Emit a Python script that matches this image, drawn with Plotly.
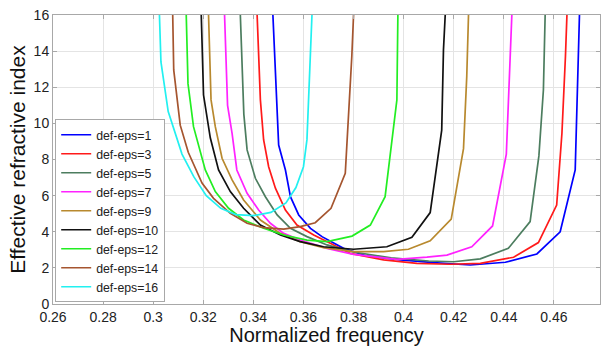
import plotly.graph_objects as go

# ---- data ----
labels = ["def-eps=1", "def-eps=3", "def-eps=5", "def-eps=7", "def-eps=9",
          "def-eps=10", "def-eps=12", "def-eps=14", "def-eps=16"]

x_eps1 = [0.3478, 0.3494, 0.3501, 0.3528, 0.3548, 0.3581, 0.3628, 0.3674, 0.3760, 0.3853,
          0.3987, 0.4120, 0.4266, 0.4406, 0.4532, 0.4625, 0.4685, 0.4702]
y_eps1 = [16, 11.0, 8.8, 7.42, 5.94, 4.93, 4.19, 3.73, 3.08, 2.66,
          2.44, 2.29, 2.16, 2.31, 2.77, 4.0, 7.42, 16]

x_eps3 = [0.3415, 0.3428, 0.3441, 0.3461, 0.3488, 0.3528, 0.3574, 0.3641, 0.3707, 0.3787,
          0.3920, 0.4053, 0.4186, 0.4306, 0.4439, 0.4538, 0.4611, 0.4632, 0.4646, 0.4652]
y_eps3 = [16, 11.3, 9.08, 7.6, 6.41, 5.2, 4.37, 3.82, 3.36, 2.8,
          2.44, 2.25, 2.2, 2.25, 2.59, 3.4, 5.48, 9.45, 13.7, 16]

x_eps5 = [0.3348, 0.3362, 0.3375, 0.3408, 0.3448, 0.3495, 0.3548, 0.3614, 0.3694, 0.3800,
          0.3950, 0.4100, 0.4200, 0.4306, 0.4418, 0.4505, 0.4540, 0.4558, 0.4565]
y_eps5 = [16, 10.5, 8.53, 6.96, 5.94, 4.93, 4.19, 3.73, 3.27, 2.88,
          2.55, 2.38, 2.34, 2.5, 3.08, 4.56, 8.2, 11.85, 16]

x_eps7 = [0.3285, 0.3297, 0.3315, 0.3334, 0.3375, 0.3421, 0.3468, 0.3521, 0.3587, 0.3694,
          0.3800, 0.3973, 0.4093, 0.4173, 0.4272, 0.4355, 0.4410, 0.4425, 0.4432]
y_eps7 = [16, 11.0, 9.45, 7.42, 6.13, 5.2, 4.47, 3.91, 3.54, 3.08,
          2.75, 2.47, 2.59, 2.71, 3.17, 4.32, 8.3, 13.7, 16]

x_eps9 = [0.3221, 0.3231, 0.3248, 0.3275, 0.3315, 0.3361, 0.3428, 0.3508, 0.3587, 0.3680,
          0.3800, 0.3920, 0.4019, 0.4106, 0.4190, 0.4239, 0.4252, 0.4259]
y_eps9 = [16, 11.3, 9.82, 8.07, 6.87, 5.76, 4.65, 3.91, 3.45, 3.12,
          2.9, 2.9, 3.03, 3.5, 4.7, 8.6, 12.6, 16]

x_eps10 = [0.3192, 0.3201, 0.3228, 0.3261, 0.3308, 0.3361, 0.3428, 0.3508, 0.3587, 0.3680,
           0.3800, 0.3933, 0.4033, 0.4106, 0.4152, 0.4159, 0.4166]
y_eps10 = [16, 11.57, 9.2, 7.42, 6.22, 5.3, 4.37, 3.82, 3.45, 3.17,
           3.03, 3.17, 3.69, 5.06, 9.63, 14.06, 16]

x_eps12 = [0.3132, 0.3139, 0.3161, 0.3208, 0.3248, 0.3301, 0.3361, 0.3441, 0.3521, 0.3614,
           0.3694, 0.3794, 0.3867, 0.3926, 0.3973, 0.3977]
y_eps12 = [16, 12.2, 9.82, 7.42, 6.22, 5.3, 4.65, 4.19, 3.82, 3.54,
           3.45, 3.76, 4.37, 5.94, 11.3, 16]

x_eps14 = [0.3078, 0.3082, 0.3108, 0.3140, 0.3195, 0.3241, 0.3308, 0.3375, 0.3441, 0.3521,
           0.3587, 0.3647, 0.3710, 0.3767, 0.3793, 0.3800]
y_eps14 = [16, 12.96, 9.9, 8.4, 6.7, 5.85, 5.02, 4.47, 4.23, 4.15,
           4.28, 4.5, 5.3, 7.24, 13.7, 16]

x_eps16 = [0.3025, 0.3031, 0.3060, 0.3115, 0.3162, 0.3212, 0.3270, 0.3330, 0.3400, 0.3470,
           0.3530, 0.3570, 0.3600, 0.3614, 0.3634]
y_eps16 = [16, 13.4, 10.65, 8.3, 7.05, 6.0, 5.3, 4.95, 4.89, 5.07,
           5.6, 6.45, 7.6, 9.1, 16]

x_ticks = [0.26, 0.28, 0.30, 0.32, 0.34, 0.36, 0.38, 0.40, 0.42, 0.44, 0.46]
x_tick_labels = ["0.26", "0.28", "0.3", "0.32", "0.34", "0.36", "0.38", "0.4", "0.42", "0.44", "0.46"]
y_ticks = [0, 2, 4, 6, 8, 10, 12, 14, 16]
y_tick_labels = ["0", "2", "4", "6", "8", "10", "12", "14", "16"]

colors = ["#0000ff", "#ff1a1a", "#4c7d5f", "#ff22ff", "#b8892e",
          "#111111", "#22ee22", "#a5552f", "#22f0f0"]

series_x = [x_eps1, x_eps3, x_eps5, x_eps7, x_eps9, x_eps10, x_eps12, x_eps14, x_eps16]
series_y = [y_eps1, y_eps3, y_eps5, y_eps7, y_eps9, y_eps10, y_eps12, y_eps14, y_eps16]

fig = go.Figure()
for name, xs, ys, c in zip(labels, series_x, series_y, colors):
    fig.add_trace(go.Scatter(x=xs, y=ys, mode="lines", name=name,
                             line=dict(color=c, width=1.7), cliponaxis=True))

font_family = "Liberation Sans, Arial, sans-serif"
axis_common = dict(
    showgrid=True, gridcolor="#e4e4e4", gridwidth=1,
    showline=True, linecolor="#a8a8a8", linewidth=1, mirror="ticks",
    ticks="inside", ticklen=4, tickcolor="#a8a8a8",
    zeroline=False, tickfont=dict(family=font_family, size=14, color="#222222"),
)

fig.update_layout(
    width=602, height=346,
    margin=dict(l=53, r=2, t=15, b=42),
    paper_bgcolor="white", plot_bgcolor="white",
    font=dict(family=font_family, color="#111111"),
    xaxis=dict(range=[0.26, 0.4784], tickvals=x_ticks, ticktext=x_tick_labels,
               title=dict(text="Normalized frequency", font=dict(size=20, color="#111111"), standoff=2),
               **axis_common),
    yaxis=dict(range=[0, 16], tickvals=y_ticks, ticktext=y_tick_labels,
               title=dict(text="Effective refractive index", font=dict(size=21, color="#111111"), standoff=2),
               **axis_common),
    legend=dict(x=0.004, y=0.006, xanchor="left", yanchor="bottom",
                bgcolor="white", bordercolor="#a8a8a8", borderwidth=1,
                font=dict(family=font_family, size=12.3, color="#222222"),
                tracegroupgap=0, itemwidth=30),
    showlegend=True,
)

fig.write_html("out.html")
